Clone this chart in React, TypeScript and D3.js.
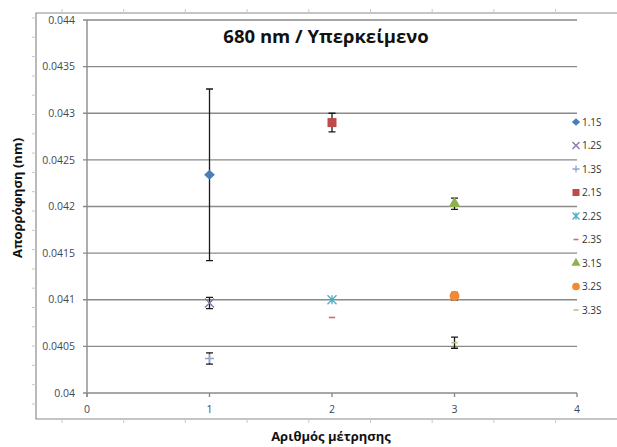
import React from 'react';
import * as d3 from 'd3';

const seriesNames = ['1.1S', '1.2S', '1.3S', '2.1S', '2.2S', '2.3S', '3.1S', '3.2S', '3.3S'];
const xValues = [1, 1, 1, 2, 2, 2, 3, 3, 3];
const yValues = [0.04234, 0.040965, 0.04037, 0.0429, 0.041, 0.04081, 0.04203, 0.04104, 0.04054];
const yErrors = [0.00092, 0.00006, 0.00006, 0.0001, 0, 0, 0.00006, 0.00004, 0.00006];
const markerKinds = ['diamond', 'x', 'plus', 'square', 'star', 'dash', 'triangle', 'circle', 'dash'];
const colors = ['#4a7ebb', '#8a73aa', '#8ba6d6', '#be4b48', '#4bacc6', '#d46a6a', '#8fb04f', '#f08a35', '#a9c97a'];

const yTicks = [0.04, 0.0405, 0.041, 0.0415, 0.042, 0.0425, 0.043, 0.0435, 0.044];
const yTickLabels = ['0.04', '0.0405', '0.041', '0.0415', '0.042', '0.0425', '0.043', '0.0435', '0.044'];
const xTicks = [0, 1, 2, 3, 4];

const title = '680 nm / Υπερκείμενο';
const xTitle = 'Αριθμός μέτρησης';
const yTitle = 'Απορρόφηση (nm)';

const W = 617;
const H = 447;
const plot = { left: 87, right: 577, top: 20, bottom: 393 };
const font = 'Open Sans, Liberation Sans, sans-serif';

function Marker({ kind, color, x, y, s }: { kind: string; color: string; x: number; y: number; s: number }) {
    const sym = (type: d3.SymbolType, area: number) => (
        <path d={d3.symbol().type(type).size(area)() ?? ''} transform={`translate(${x},${y})`} fill={color} />
    );
    switch (kind) {
        case 'diamond':
            return <path d={`M${x},${y - s * 0.55}L${x + s * 0.6},${y}L${x},${y + s * 0.55}L${x - s * 0.6},${y}Z`} fill={color} />;
        case 'square':
            return sym(d3.symbolSquare, s * s);
        case 'triangle':
            return sym(d3.symbolTriangle, s * s * 0.75);
        case 'circle':
            return <circle cx={x} cy={y} r={s * 0.55} fill={color} />;
        case 'x':
            return (
                <path d={`M${x - s / 2},${y - s / 2}L${x + s / 2},${y + s / 2}M${x - s / 2},${y + s / 2}L${x + s / 2},${y - s / 2}`} stroke={color} strokeWidth={1.3} />
            );
        case 'plus':
            return <path d={`M${x - s / 2},${y}L${x + s / 2},${y}M${x},${y - s / 2}L${x},${y + s / 2}`} stroke={color} strokeWidth={1.3} />;
        case 'star':
            return (
                <path
                    d={`M${x - s / 2},${y - s / 2}L${x + s / 2},${y + s / 2}M${x - s / 2},${y + s / 2}L${x + s / 2},${y - s / 2}M${x},${y - s / 2}L${x},${y + s / 2}`}
                    stroke={color}
                    strokeWidth={1.3}
                />
            );
        case 'dash':
            return <path d={`M${x - s * 0.35},${y}L${x + s * 0.35},${y}`} stroke={color} strokeWidth={1.6} />;
        default:
            return null;
    }
}

export default function App() {
    const scaleX = d3.scaleLinear().domain([0, 4]).range([plot.left, plot.right]);
    const scaleY = d3.scaleLinear().domain([0.04, 0.044]).range([plot.bottom, plot.top]);

    const frameTicksX = d3.range(62, W, 61.7);
    const frameTicksY = d3.range(18, 419, 19.3);

    return (
        <svg width={W} height={H} style={{ position: 'absolute', left: 0, top: 0, background: '#fff' }}>
            {/* outer chart frame */}
            <path d={`M${W},13H36V419H${W}`} fill="none" stroke="#8c8c8c" strokeWidth={1.2} />
            {frameTicksX.map((x) => (
                <g key={`fx${x}`}>
                    <line x1={x} x2={x} y1={9} y2={13} stroke="#c8c8c8" />
                    <line x1={x} x2={x} y1={419} y2={423} stroke="#c8c8c8" />
                </g>
            ))}
            {frameTicksY.map((y) => (
                <line key={`fy${y}`} x1={32} x2={36} y1={y} y2={y} stroke="#c8c8c8" />
            ))}

            {/* grid */}
            {yTicks.map((t, i) => (
                <g key={`gy${t}`}>
                    <line x1={plot.left - 4} x2={plot.right} y1={scaleY(t)} y2={scaleY(t)} stroke="#8a8a8a" strokeWidth={1.4} />
                    <text x={plot.left - 12} y={scaleY(t)} dy="0.35em" textAnchor="end" fontSize={10.5} fontFamily={font} fill="#404a5a">
                        {yTickLabels[i]}
                    </text>
                </g>
            ))}
            <line x1={plot.left} x2={plot.left} y1={plot.top} y2={plot.bottom + 4} stroke="#8a8a8a" strokeWidth={1.4} />
            {xTicks.map((t) => (
                <g key={`gx${t}`}>
                    <line x1={scaleX(t)} x2={scaleX(t)} y1={plot.bottom} y2={plot.bottom + 4} stroke="#8a8a8a" strokeWidth={1.4} />
                    <text x={scaleX(t)} y={plot.bottom + 16} dy="0.35em" textAnchor="middle" fontSize={10.5} fontFamily={font} fill="#404a5a">
                        {t}
                    </text>
                </g>
            ))}

            {/* error bars */}
            {seriesNames.map((name, i) => {
                if (!yErrors[i]) return null;
                const x = scaleX(xValues[i]);
                const y0 = scaleY(yValues[i] + yErrors[i]);
                const y1 = scaleY(yValues[i] - yErrors[i]);
                return (
                    <path
                        key={`e${name}`}
                        d={`M${x},${y0}V${y1}M${x - 3.5},${y0}H${x + 3.5}M${x - 3.5},${y1}H${x + 3.5}`}
                        stroke="#1a1a1a"
                        strokeWidth={1.3}
                        fill="none"
                    />
                );
            })}

            {/* points */}
            {seriesNames.map((name, i) => (
                <Marker key={`p${name}`} kind={markerKinds[i]} color={colors[i]} x={scaleX(xValues[i])} y={scaleY(yValues[i])} s={9} />
            ))}

            {/* legend */}
            {seriesNames.map((name, i) => {
                const y = 122 + i * 23.5;
                return (
                    <g key={`l${name}`}>
                        <Marker kind={markerKinds[i]} color={colors[i]} x={576} y={y} s={7} />
                        <text x={582} y={y} dy="0.35em" fontSize={10} fontFamily={font} fill="#333">
                            {name}
                        </text>
                    </g>
                );
            })}

            <text x={326} y={43} textAnchor="middle" fontSize={18.5} fontWeight="bold" fontFamily={font} fill="#111">
                {title}
            </text>
            <text x={331} y={441} textAnchor="middle" fontSize={13} fontWeight="bold" fontFamily={font} fill="#111">
                {xTitle}
            </text>
            <text transform="translate(22,198) rotate(-90)" textAnchor="middle" fontSize={13} fontWeight="bold" fontFamily={font} fill="#111">
                {yTitle}
            </text>
        </svg>
    );
}
